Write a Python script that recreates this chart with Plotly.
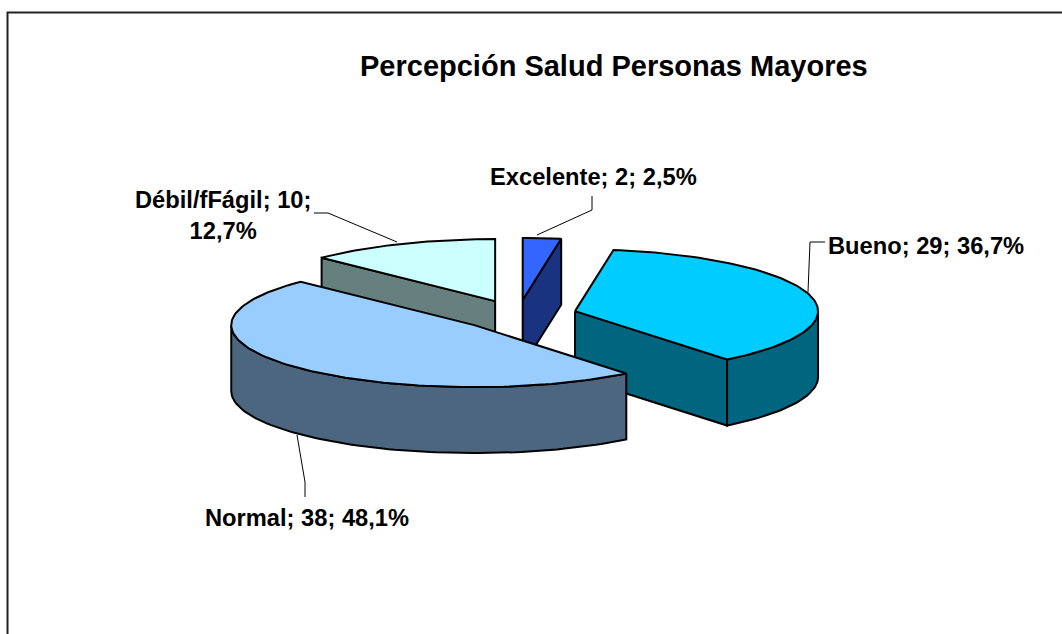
import math
import plotly.graph_objects as go

# --- data ---
categories = ["Excelente", "Bueno", "Normal", "Débil/fFágil"]
values = [2, 29, 38, 10]
percent_labels = ["2,5%", "36,7%", "48,1%", "12,7%"]
label_texts = ["Excelente; 2; 2,5%", "Bueno; 29; 36,7%", "Normal; 38; 48,1%", "Débil/fFágil; 10;<br>12,7%"]
title_text = "Percepción Salud Personas Mayores"

# --- style ---
top_colors = ["#3366FF", "#00CCFF", "#99CCFF", "#CCFFFF"]
side_colors = ["#1A3380", "#006680", "#4D6680", "#668080"]
FONT = "Liberation Sans, Arial, sans-serif"
CX, CY, RX, RY, DEPTH, EXPLODE = 518, 315, 243, 62, 66, 59
W, H = 1062, 634


def pt(theta, r=1.0, ox=0.0, oy=0.0, dz=0.0):
    return (ox + RX * r * math.sin(theta), oy - RY * r * math.cos(theta) + dz)


total = sum(values)
wedges = []
acc = 0
for v in values:
    a0 = 2 * math.pi * acc / total
    acc += v
    a1 = 2 * math.pi * acc / total
    mid = (a0 + a1) / 2
    ox, oy = pt(mid, EXPLODE / RX, CX, CY)
    wedges.append((a0, a1, ox, oy))

fig = go.Figure()


def poly(points, fill):
    xs = [p[0] for p in points] + [points[0][0]]
    ys = [p[1] for p in points] + [points[0][1]]
    fig.add_trace(go.Scatter(x=xs, y=ys, mode="lines", fill="toself", fillcolor=fill,
                             line=dict(color="black", width=2), hoverinfo="skip", showlegend=False))


def arc(a0, a1, ox, oy, dz=0.0):
    n = max(2, int(abs(a1 - a0) * 40))
    return [pt(a0 + (a1 - a0) * i / n, 1.0, ox, oy, dz) for i in range(n + 1)]


# painter's order: back slices first, the big front slice last
for idx in [3, 0, 1, 2]:
    a0, a1, ox, oy = wedges[idx]
    apex = (ox, oy)
    apex_d = (ox, oy + DEPTH)
    # a cut face is drawn only when it turns towards the viewer
    for a, faces in ((a0, math.sin(a0) < -1e-6), (a1, math.sin(a1) > 1e-6)):
        if faces:
            p = pt(a, 1.0, ox, oy)
            poly([apex, p, (p[0], p[1] + DEPTH), apex_d], side_colors[idx])
    # outer rim: only the part on the front half of the ellipse
    lo, hi = max(a0, math.pi / 2), min(a1, 3 * math.pi / 2)
    if hi > lo:
        poly(arc(lo, hi, ox, oy) + arc(hi, lo, ox, oy, DEPTH), side_colors[idx])
    poly([apex] + arc(a0, a1, ox, oy), top_colors[idx])

# leader lines, one per label
leaders = [
    [(537, 235), (592, 210), (592, 196)],
    [(808, 292), (810, 242), (825, 242)],
    [(297, 435), (305, 482), (305, 497)],
    [(397, 242), (328, 213), (314, 213)],
]
for lead in leaders:
    fig.add_trace(go.Scatter(x=[p[0] for p in lead], y=[p[1] for p in lead], mode="lines",
                             line=dict(color="black", width=1), hoverinfo="skip", showlegend=False))

# chart frame: left and top edges only reach the window
fig.add_trace(go.Scatter(x=[7.5, 7.5, W], y=[H, 12.5, 12.5], mode="lines",
                         line=dict(color="#222222", width=2), hoverinfo="skip", showlegend=False))

label_pos = [(593, 177), (926, 246), (307, 518), (223, 215)]
for text, (x, y) in zip(label_texts, label_pos):
    fig.add_annotation(x=x, y=y, text="<b>" + text.replace("<br>", "</b><br><b>") + "</b>",
                       showarrow=False, xref="x", yref="y", align="center",
                       font=dict(family=FONT, size=23.7, color="black"))

fig.add_annotation(x=614, y=66, text="<b>" + title_text + "</b>", showarrow=False, xref="x", yref="y",
                   font=dict(family=FONT, size=29, color="black"))

fig.update_layout(
    width=W, height=H, margin=dict(l=0, r=0, t=0, b=0),
    paper_bgcolor="white", plot_bgcolor="white", showlegend=False,
    xaxis=dict(range=[0, W], visible=False, fixedrange=True),
    yaxis=dict(range=[H, 0], visible=False, fixedrange=True),
)
fig.write_html("out.html", config={"displayModeBar": False},
               post_script="document.body.style.margin='0';document.body.style.overflow='hidden';")
